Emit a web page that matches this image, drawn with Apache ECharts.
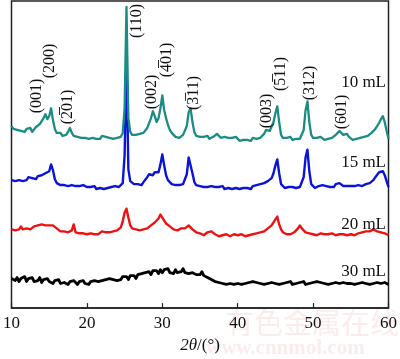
<!DOCTYPE html>
<html>
<head>
<meta charset="utf-8">
<script src="https://cdn.jsdelivr.net/npm/echarts@6/dist/echarts.min.js"></script>
<style>
html,body{margin:0;padding:0;background:#fff;}
#chart{width:400px;height:359px;}
</style>
</head>
<body>
<div id="chart"></div>
<script>
// 2θ scan positions (degrees)
const twoTheta = [
10,10.25,10.5,10.75,11,11.25,11.5,11.75,12,12.25,12.5,12.75,13,13.25,13.5,13.75,14,14.25,14.5,14.75,
15,15.25,15.5,15.75,16,16.25,16.5,16.75,17,17.25,17.5,17.75,18,18.25,18.5,18.75,19,19.25,19.5,19.75,
20,20.25,20.5,20.75,21,21.25,21.5,21.75,22,22.25,22.5,22.75,23,23.25,23.5,23.75,24,24.25,24.5,24.75,
25,25.25,25.5,25.75,26,26.25,26.5,26.75,27,27.25,27.5,27.75,28,28.25,28.5,28.75,29,29.25,29.5,29.75,
30,30.25,30.5,30.75,31,31.25,31.5,31.75,32,32.25,32.5,32.75,33,33.25,33.5,33.75,34,34.25,34.5,34.75,
35,35.25,35.5,35.75,36,36.25,36.5,36.75,37,37.25,37.5,37.75,38,38.25,38.5,38.75,39,39.25,39.5,39.75,
40,40.25,40.5,40.75,41,41.25,41.5,41.75,42,42.25,42.5,42.75,43,43.25,43.5,43.75,44,44.25,44.5,44.75,
45,45.25,45.5,45.75,46,46.25,46.5,46.75,47,47.25,47.5,47.75,48,48.25,48.5,48.75,49,49.25,49.5,49.75,
50,50.25,50.5,50.75,51,51.25,51.5,51.75,52,52.25,52.5,52.75,53,53.25,53.5,53.75,54,54.25,54.5,54.75,
55,55.25,55.5,55.75,56,56.25,56.5,56.75,57,57.25,57.5,57.75,58,58.25,58.5,58.75,59,59.25,59.5,59.75,
60];

// Intensities (offset arbitrary units, stacked)
const int10mL = [
185,182,184,181,183,180,182,179,182,180,183,179,181,184,185,187,189,193,197,192,
195,203,191,182,178,176,178,175,177,176,179,183,178,175,177,174,176,173,175,173,
175,172,174,173,175,172,174,172,175,173,174,172,173,175,172,174,173,175,174,178,
203,306,193,179,176,174,176,175,177,176,178,180,183,188,193,200,195,189,193,203,
216,201,193,186,181,178,176,174,175,173,175,176,178,185,199,203,189,179,175,173,
174,172,174,173,175,172,173,174,176,177,175,173,172,174,172,173,171,173,172,174,
172,170,172,171,173,171,172,170,173,171,172,171,173,175,177,181,183,180,182,189,
198,205,189,176,173,171,173,172,174,171,173,172,174,172,173,181,201,210,189,176,
173,171,173,172,174,172,171,173,172,174,173,175,176,178,180,178,176,175,177,174,
173,171,173,172,171,173,172,174,173,175,176,178,179,182,185,188,192,195,189,180,
172];

const int15mL = [
130,132,129,131,130,132,129,131,130,133,131,132,133,131,134,133,135,134,137,136,
139,146,140,131,127,126,125,127,125,126,124,126,125,127,124,126,124,123,125,123,
123,121,123,122,124,121,123,122,124,121,123,122,121,123,122,124,122,123,124,127,
155,251,141,129,127,126,128,126,127,125,128,130,133,136,137,135,138,136,138,146,
156,145,135,130,128,126,127,125,126,125,127,126,128,136,153,155,137,128,125,123,
124,122,123,121,123,122,124,122,123,121,123,122,124,121,123,122,123,121,123,122,
123,121,123,122,124,122,123,121,124,122,125,124,126,125,127,128,129,130,132,137,
145,151,137,126,124,122,124,123,125,123,124,122,124,123,125,133,153,161,139,126,
124,122,123,124,122,125,123,124,122,123,125,123,126,125,127,125,124,126,124,123,
124,122,124,123,125,123,124,125,126,125,127,128,130,133,135,138,139,139,135,129,
123];

const int20mL = [
80,82,79,81,80,83,80,82,81,83,80,82,83,81,84,82,85,83,84,85,
84,83,84,82,81,79,78,77,78,76,77,78,79,85,77,75,76,74,76,74,
75,74,76,74,75,76,75,77,78,76,77,75,77,76,78,77,79,80,82,88,
97,101,92,84,81,79,80,78,79,78,80,79,81,82,84,86,87,89,91,95,
92,89,86,85,83,82,80,81,79,80,81,80,81,82,84,82,80,78,77,75,
76,75,74,76,77,79,78,76,75,74,73,75,74,73,75,74,73,74,75,73,
74,73,75,74,73,75,74,76,75,77,76,78,77,79,78,80,81,83,84,87,
89,93,85,80,77,76,75,76,75,76,77,79,81,84,81,79,77,78,76,75,
75,76,74,75,76,74,75,76,75,74,76,75,74,76,75,74,75,76,74,75,
75,76,74,75,76,75,77,76,78,77,78,79,80,79,78,79,77,78,76,75,
74];

const int30mL = [
30,32,28,31,27,30,29,32,27,30,28,31,27,29,28,31,26,29,27,30,
27,29,25,28,26,29,25,27,26,28,24,27,25,28,26,24,27,25,28,25,
26,24,27,25,28,26,27,25,28,27,29,27,30,28,29,31,28,30,29,32,
30,32,29,33,31,33,30,34,32,35,33,36,34,37,34,38,36,38,35,39,
36,39,37,40,36,38,35,39,36,38,37,40,36,38,35,37,36,38,34,36,
34,37,33,35,31,33,29,30,27,28,26,27,25,27,24,26,25,27,24,26,
25,27,24,26,25,23,26,24,27,25,26,24,25,27,24,26,25,23,26,24,
25,27,24,26,25,23,26,25,27,24,26,25,23,26,25,27,24,26,25,23,
26,24,27,25,26,24,25,27,24,26,25,27,26,24,25,27,26,24,25,26,
25,27,24,26,25,23,26,24,25,27,24,26,25,23,26,24,25,23,26,24,
24];

const seriesNames = ['30 mL', '20 mL', '15 mL', '10 mL'];
const xTicks = [10, 20, 30, 40, 50, 60];

// Peak annotations (Miller indices)
const peakLabels = ['(001)', '(200)', '(2\u030501)', '(110)', '(002)', '(4\u030501)', '(3\u030511)', '(003)', '(5\u030511)', '(312)', '(601)'];

const SERIF = '"Liberation Serif", "Times New Roman", "DejaVu Serif", serif';

function pairs(ys) { return twoTheta.map((x, i) => [x, ys[i]]); }

const chart = echarts.init(document.getElementById('chart'), null, {renderer: 'canvas'});

const colors = ['#000000', '#ee1111', '#0a14d8', '#1b8c84'];
const widths = [2.8, 2.4, 2.4, 2.3];
const dataSets = [int30mL, int20mL, int15mL, int10mL];

// label pixel centres
const peakPos = [[37,96],[50,61],[68,107],[137,21],[152,92],[167,60],[194,93],[267,111],[281,74],[310,83],[342,112]];
const namePos = [[386,272],[386,225],[386,163],[386,83]];

const graphics = [];
peakLabels.forEach((t, i) => {
  graphics.push({
    type: 'text', x: peakPos[i][0], y: peakPos[i][1], rotation: Math.PI / 2, z: 100,
    style: { text: t, font: '16px ' + SERIF, fill: '#111', textAlign: 'center', textVerticalAlign: 'middle' }
  });
});
seriesNames.forEach((t, i) => {
  graphics.push({
    type: 'text', x: namePos[i][0], y: namePos[i][1], z: 100,
    style: { text: t, font: '17px ' + SERIF, fill: '#111', textAlign: 'right', textVerticalAlign: 'middle' }
  });
});
// faint watermark
graphics.push({ type: 'text', x: 225, y: 323, z: 0,
  style: { text: '有色金属在线', font: '29px "Noto Sans CJK SC", sans-serif', fill: 'rgba(220,120,120,0.14)', textVerticalAlign: 'middle' } });
graphics.push({ type: 'text', x: 206, y: 349, z: 0,
  style: { text: 'www.cnnmol.com', font: 'bold 21px ' + SERIF, fill: 'rgba(220,120,120,0.14)', textVerticalAlign: 'middle' } });

chart.setOption({
  animation: false,
  backgroundColor: '#fff',
  grid: { left: 8, right: 7, top: 1, bottom: 46, show: true, borderColor: '#222', borderWidth: 1.5, backgroundColor: 'transparent' },
  xAxis: {
    type: 'value', min: 10, max: 60, interval: 10,
    axisLine: { show: true, lineStyle: { color: '#222', width: 1.5 } },
    axisTick: { show: true, inside: true, length: 5, lineStyle: { color: '#222', width: 1.2 } },
    splitLine: { show: false },
    axisLabel: { color: '#111', fontSize: 17, fontFamily: SERIF, margin: 7,
      formatter: v => xTicks.indexOf(v) >= 0 ? String(v) : '' },
    name: '{i|2θ}{n|/(°)}', nameLocation: 'middle', nameGap: 27,
    nameTextStyle: { rich: {
      i: { fontSize: 17, fontFamily: SERIF, fontStyle: 'italic', color: '#111' },
      n: { fontSize: 17, fontFamily: SERIF, color: '#111' } } }
  },
  yAxis: {
    type: 'value', min: 0, max: 312,
    axisLine: { show: false }, axisTick: { show: false }, axisLabel: { show: false }, splitLine: { show: false }
  },
  series: seriesNames.map((n, i) => ({
    name: n, type: 'line', data: pairs(dataSets[i]), showSymbol: false, symbol: 'none',
    sampling: null, smooth: false, z: 2 + i,
    lineStyle: { color: colors[i], width: widths[i], join: 'round' }
  })),
  graphic: graphics
});
</script>
</body>
</html>
